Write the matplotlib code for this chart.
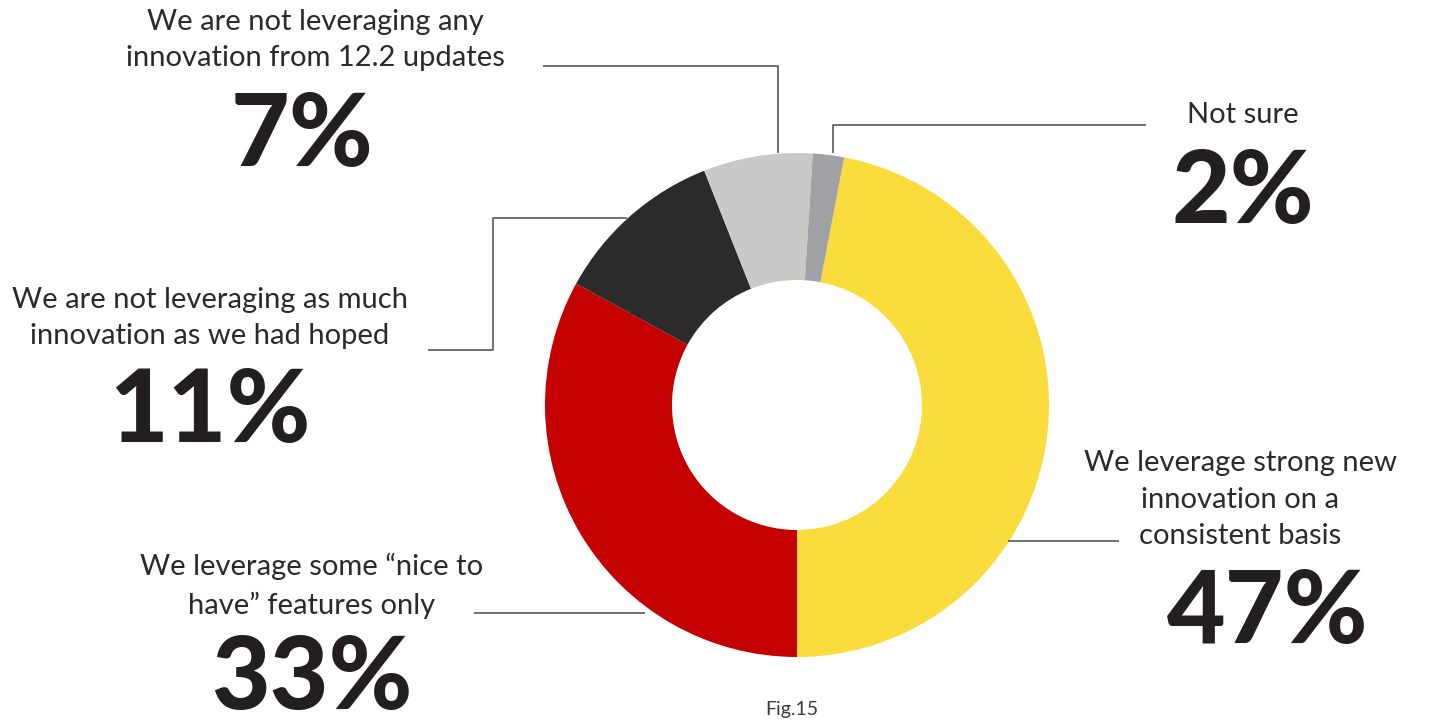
import matplotlib.pyplot as plt

labels = [
    "We leverage strong new\ninnovation on a\nconsistent basis",
    "We leverage some \u201cnice to\nhave\u201d features only",
    "We are not leveraging as much\ninnovation as we had hoped",
    "We are not leveraging any\ninnovation from 12.2 updates",
    "Not sure",
]
shares = [47, 33, 11, 7, 2]
colors = ["#FADC3C", "#C40000", "#2C2B29", "#C9C9C7", "#A0A1A5"]

W, H = 1445, 725
fig = plt.figure(figsize=(W / 100, H / 100), dpi=100)
ax = fig.add_axes([0, 0, 1, 1])

def fy(py):
    # image rows -> data y
    return H - py

cx, cy, r_out, r_in = 797, 405, 252, 125
ax.pie(shares, colors=colors, center=(cx, fy(cy)), radius=r_out,
       startangle=90 - 10.8, counterclock=False,
       wedgeprops=dict(width=r_out - r_in, linewidth=0), frame=True)
ax.set_xlim(0, W)
ax.set_ylim(0, H)
ax.set_aspect("equal")
ax.axis("off")

# leader lines (pixel positions)
leaders = [
    ([1008, 1119], [541, 541]),
    ([474, 645], [613, 613]),
    ([428, 493, 493, 627], [350, 350, 218, 218]),
    ([543, 778, 778], [66, 66, 153]),
    ([833, 833, 1146], [153, 125, 125]),
]
for xs, ys in leaders:
    ax.plot(xs, [fy(y) for y in ys], color="#4a4a4a", lw=1.1, solid_capstyle="butt")

text_font = ["Lato", "DejaVu Sans"]
label_pos = [(1240, 500), (312, 586), (210, 318), (315, 40), (1243, 115)]
pct_pos = [(1268, 614), (312, 680), (210, 413), (302, 137), (1243, 194)]

for lab, s, (lx, ly), (px, py) in zip(labels, shares, label_pos, pct_pos):
    ax.text(lx, fy(ly), lab, ha="center", va="center", fontsize=21,
            family=text_font, fontweight="normal", color="#2b2a2a",
            linespacing=1.5)
    ax.text(px, fy(py), f"{s}%", ha="center", va="center", fontsize=73,
            family=text_font, fontweight="black", color="#231f20")

ax.text(792, fy(710), "Fig.15", ha="center", va="center", fontsize=14,
        family=text_font, fontweight="normal", color="#3a3a3a")

fig.savefig("out.png", dpi=100)
